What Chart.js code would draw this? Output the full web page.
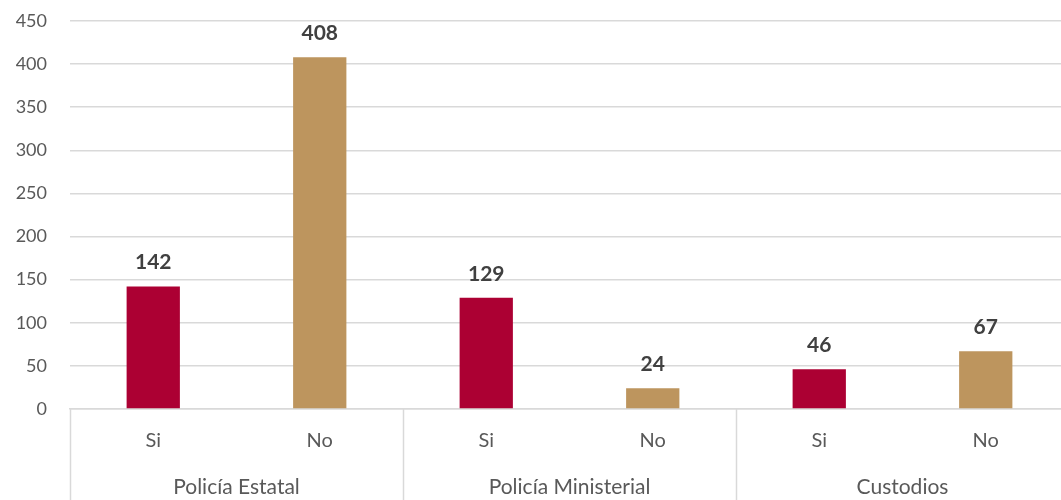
<!DOCTYPE html>
<html>
<head>
    <title>Si / No por corporación</title>
    <script src="https://cdn.jsdelivr.net/npm/chart.js"></script>
    <style>
        html, body { margin: 0; padding: 0; background: #fff; overflow: hidden; }
        .chart-container { width: 1069px; height: 500px; }
    </style>
</head>
<body>
    <div class="chart-container">
        <canvas id="barChart"></canvas>
    </div>

    <script>
        // categorías y valores
        const groups = ['Policía Estatal', 'Policía Ministerial', 'Custodios'];
        const answers = ['Si', 'No', 'Si', 'No', 'Si', 'No'];
        const values = [142, 408, 129, 24, 46, 67];
        const yTicks = [0, 50, 100, 150, 200, 250, 300, 350, 400, 450];

        const RED = '#AC0033';
        const TAN = '#BD955E';
        const TEXT = '#595959';
        const GRID = '#D9D9D9';
        const FONT = 'Lato, "Open Sans", sans-serif';

        // etiquetas de valor encima de cada barra
        const valueLabels = {
            id: 'valueLabels',
            afterDatasetsDraw(chart) {
                const ctx = chart.ctx;
                const meta = chart.getDatasetMeta(0);
                ctx.save();
                ctx.font = 'bold 21px ' + FONT;
                ctx.fillStyle = '#404040';
                ctx.textAlign = 'center';
                ctx.textBaseline = 'middle';
                meta.data.forEach((bar, i) => {
                    ctx.fillText(values[i], bar.x, bar.y - 24);
                });
                ctx.restore();
            }
        };

        // segundo nivel del eje x: grupos y separadores
        const groupAxis = {
            id: 'groupAxis',
            afterDraw(chart) {
                const ctx = chart.ctx;
                const area = chart.chartArea;
                const x = chart.scales.x;
                const per = answers.length / groups.length;
                ctx.save();
                ctx.strokeStyle = GRID;
                ctx.lineWidth = 1.5;
                for (let g = 0; g <= groups.length; g++) {
                    let lx = area.left;
                    if (g === groups.length) lx = area.right;
                    else if (g > 0) lx = (x.getPixelForValue(g * per - 1) + x.getPixelForValue(g * per)) / 2;
                    ctx.beginPath();
                    ctx.moveTo(Math.round(lx) + 0.5, area.bottom);
                    ctx.lineTo(Math.round(lx) + 0.5, chart.height);
                    ctx.stroke();
                }
                ctx.font = '21px ' + FONT;
                ctx.fillStyle = TEXT;
                ctx.textAlign = 'center';
                ctx.textBaseline = 'middle';
                groups.forEach((name, g) => {
                    const cx = (x.getPixelForValue(g * per) + x.getPixelForValue(g * per + per - 1)) / 2;
                    ctx.fillText(name, cx, 487);
                });
                ctx.restore();
            }
        };

        new Chart(document.getElementById('barChart'), {
            type: 'bar',
            data: {
                labels: answers,
                datasets: [{
                    data: values,
                    backgroundColor: answers.map(a => a === 'Si' ? RED : TAN),
                    categoryPercentage: 1,
                    barPercentage: 0.32
                }]
            },
            options: {
                responsive: true,
                maintainAspectRatio: false,
                animation: false,
                layout: { padding: { top: 21, right: 0, left: 0, bottom: 0 } },
                plugins: {
                    legend: { display: false },
                    tooltip: { enabled: false }
                },
                scales: {
                    x: {
                        afterFit: s => { s.height = 91; },
                        grid: { display: false, drawTicks: false },
                        border: { color: GRID, width: 1.5 },
                        ticks: { color: TEXT, font: { family: FONT, size: 20 }, padding: 20 }
                    },
                    y: {
                        min: 0,
                        max: 450,
                        afterFit: s => { s.width = 70; s.paddingTop = 0; s.paddingBottom = 0; },
                        afterBuildTicks: s => { s.ticks = yTicks.map(v => ({ value: v })); },
                        grid: { color: GRID, lineWidth: 1.5, drawTicks: false },
                        border: { display: false },
                        ticks: { color: TEXT, font: { family: FONT, size: 18 }, padding: 23 }
                    }
                }
            },
            plugins: [valueLabels, groupAxis]
        });
    </script>
</body>
</html>
